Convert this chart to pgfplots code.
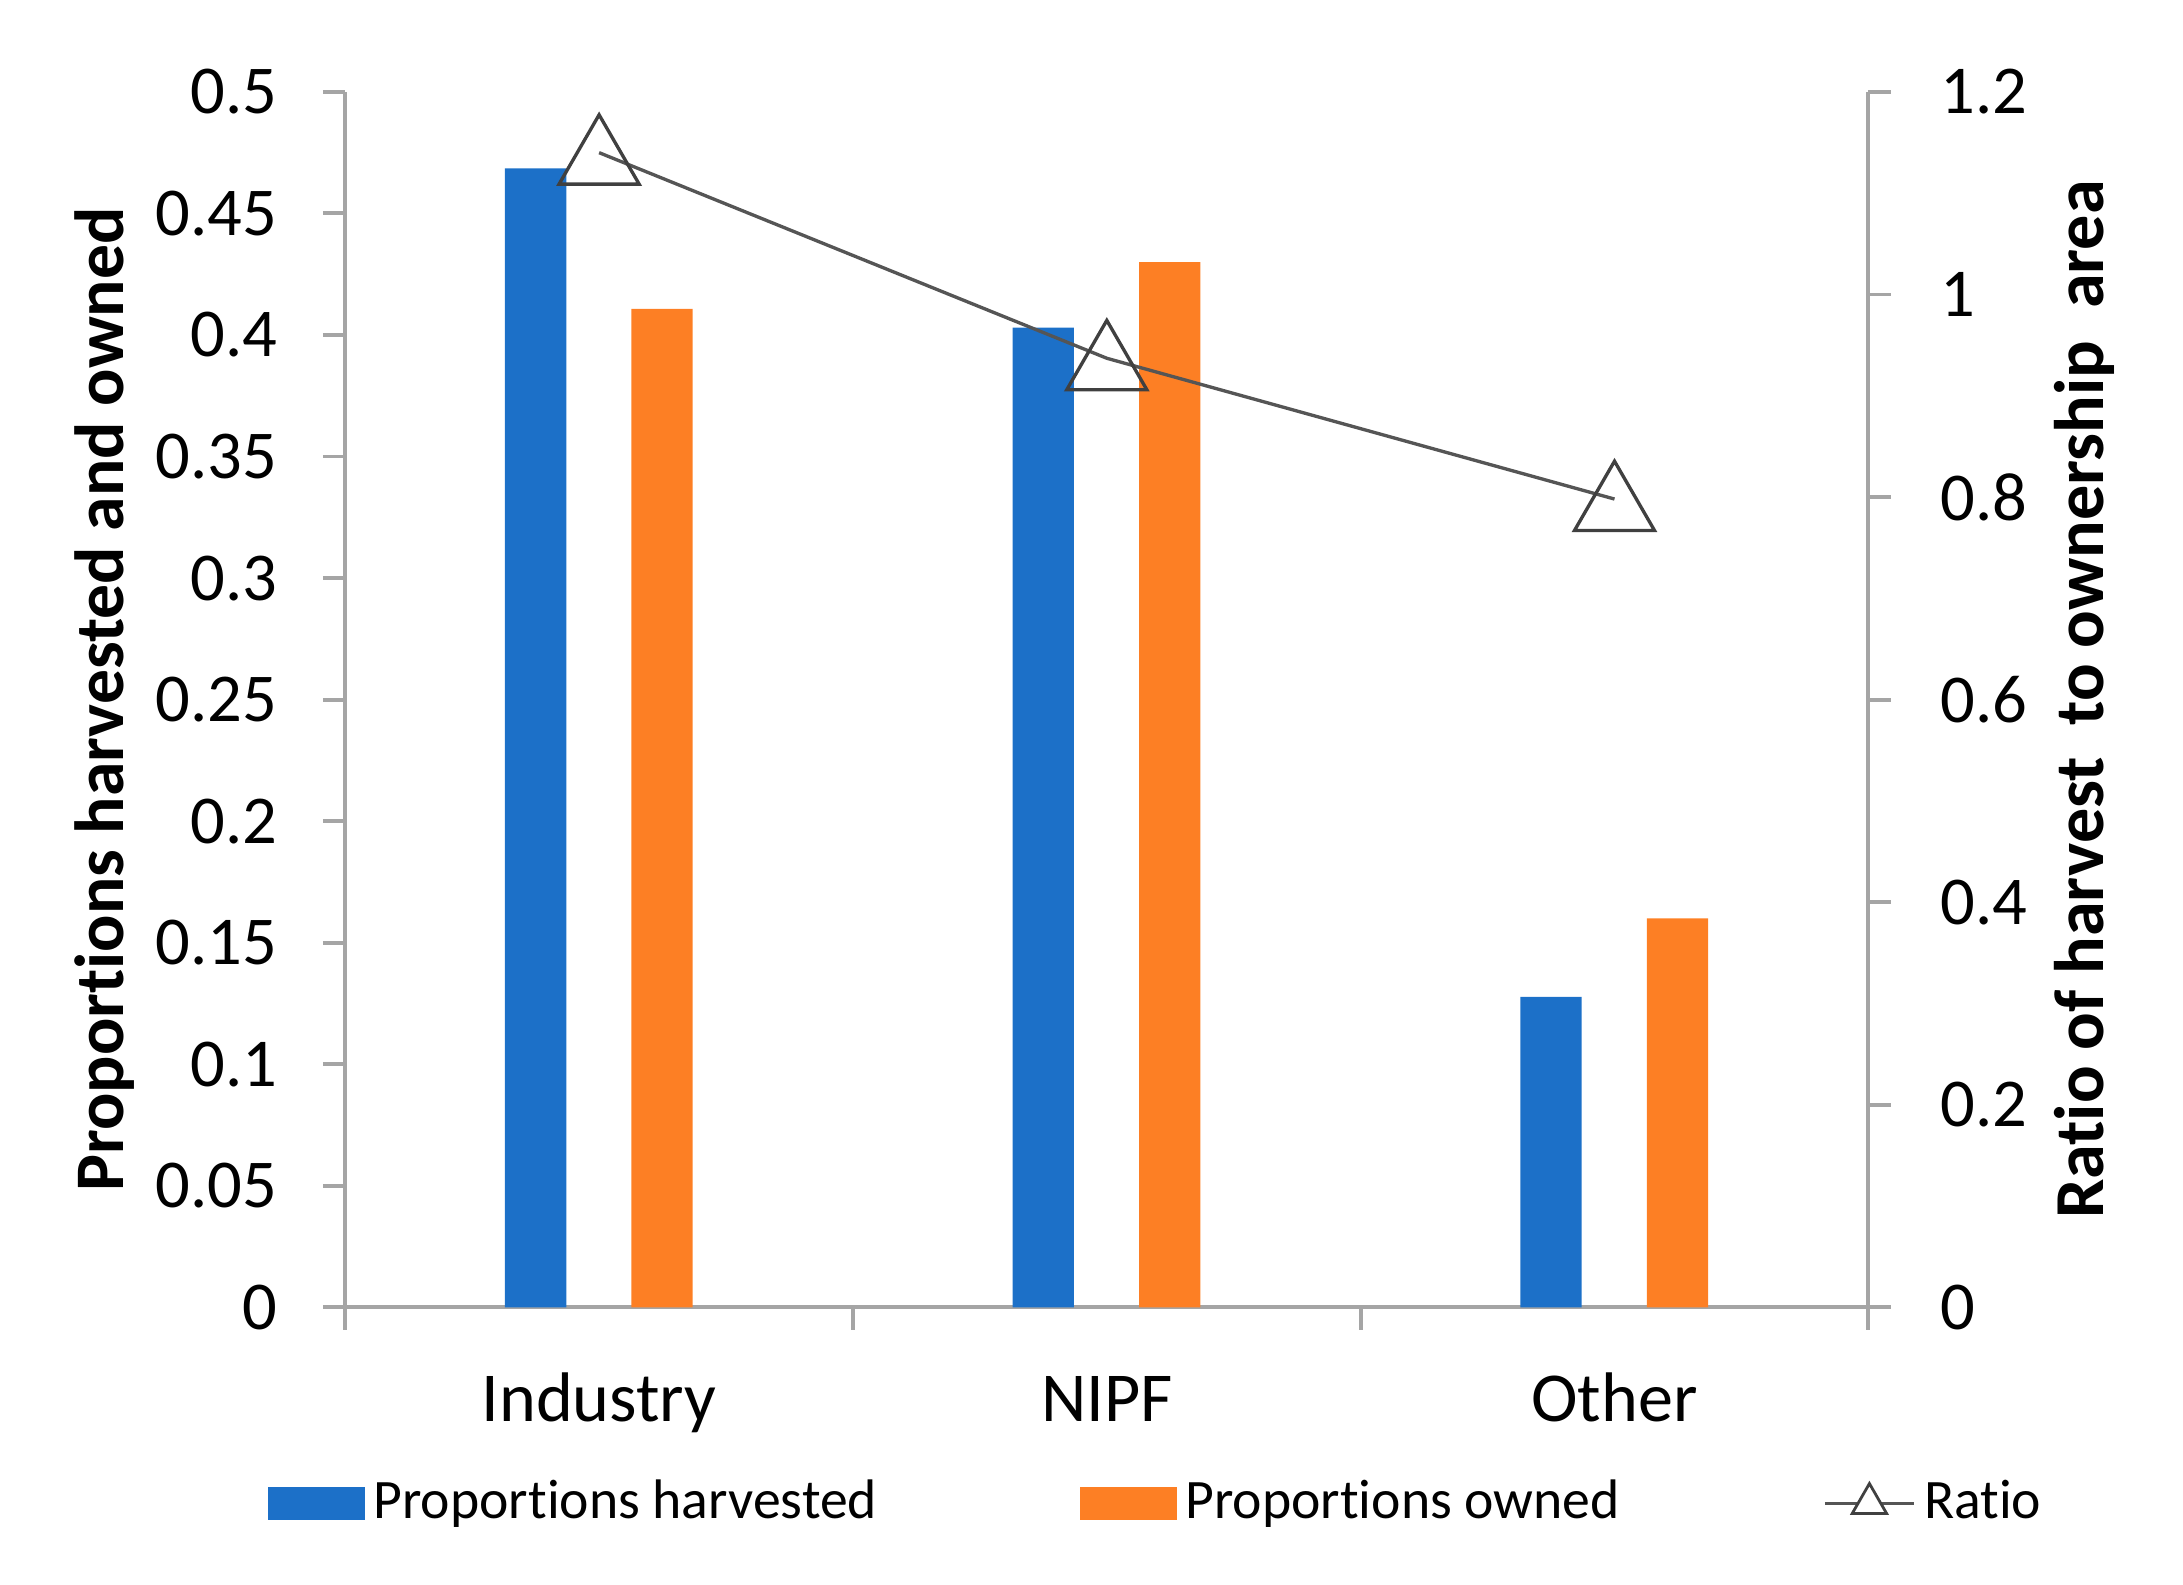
\documentclass[border=0pt]{standalone}
\usepackage{fontspec}
\setmainfont{Carlito}[Ligatures=NoCommon]
\usepackage{pgfplots}
\pgfplotsset{compat=1.18}
\definecolor{cblue}{RGB}{28,112,200}
\definecolor{corange}{RGB}{253,127,36}
\definecolor{axgray}{RGB}{165,165,165}
\definecolor{lgray}{RGB}{85,85,85}
\begin{document}
\begin{tikzpicture}
\pgfplotsset{
  common/.style={
    scale only axis, width=273.5pt, height=218.25pt,
    xmin=-0.5, xmax=2.5,
    axis line style={draw=axgray, line width=0.7pt, -},
    tick style={draw=axgray, line width=0.7pt},
    tick align=outside,
    major tick length=4pt, minor tick length=4pt,
    ticklabel style={font=\fontsize{12.3}{14}\selectfont},
  }
}
\begin{axis}[
  common, name=main,
  ymin=0, ymax=0.5,
  axis x line*=bottom, axis y line*=left,
  xtick={0,1,2}, xticklabels={Industry,NIPF,Other},
  major x tick style={draw=none},
  minor xtick={-0.5,0.5,1.5,2.5},
  xticklabel style={anchor=base, inner sep=0pt, yshift=-16.5pt, font=\fontsize{12.6}{14}\selectfont},
  ytick={0,0.05,0.1,0.15,0.2,0.25,0.3,0.35,0.4,0.45,0.5},
  yticklabels={0,0.05,0.1,0.15,0.2,0.25,0.3,0.35,0.4,0.45,0.5},
  yticklabel style={anchor=east, inner sep=0pt, xshift=-8pt},
  ylabel={Proportions harvested and owned},
  ylabel style={at={(axis description cs:-0.158,0.5)}, anchor=center, font=\bfseries\fontsize{12.5}{14}\selectfont},
]
\addplot[ybar, bar width=11pt, bar shift=-11.4pt, fill=cblue, draw=none] coordinates {(0,0.4685) (1,0.403) (2,0.1277)};
\addplot[ybar, bar width=11pt, bar shift=11.3pt, fill=corange, draw=none] coordinates {(0,0.4107) (1,0.430) (2,0.160)};
\end{axis}
\begin{axis}[
  common,
  ymin=0, ymax=1.2,
  axis x line=none, axis y line*=right,
  ytick={0,0.2,0.4,0.6,0.8,1,1.2},
  yticklabels={0,0.2,0.4,0.6,0.8,1,1.2},
  yticklabel style={anchor=west, inner sep=0pt, xshift=8.75pt},
  ylabel={Ratio of harvest\ \ to ownership\ \ area},
  ylabel style={at={(axis description cs:1.1417,0.5)}, anchor=center, rotate=0, font=\bfseries\fontsize{12.6}{14}\selectfont},
  legend columns=-1,
  legend style={at={(axis description cs:-0.0512,-0.1615)}, anchor=west, draw=none, fill=none, inner sep=0pt,
    font=\fontsize{10}{12}\selectfont, nodes={inner sep=1.5pt},
    /tikz/every even column/.append style={column sep=35pt}},
]
\addlegendimage{legend image code/.code={\fill[cblue] (0pt,-2.7pt) rectangle (17pt,2.7pt);}}
\addlegendentry{Proportions harvested}
\addlegendimage{legend image code/.code={\fill[corange] (0pt,-2.7pt) rectangle (17pt,2.7pt);}}
\addlegendentry{Proportions owned}
\addplot[lgray, line width=0.6pt, mark=triangle, mark size=8.3pt,
  mark options={fill=white, draw=black!75, line width=0.6pt, yshift=-1.5pt},
  legend image code/.code={\draw[lgray, line width=0.6pt] (0pt,0pt) -- (16pt,0pt);
    \draw[black!75, fill=white, line width=0.5pt] (8pt,3.6pt) -- (4.9pt,-1.8pt) -- (11.1pt,-1.8pt) -- cycle;}]
  coordinates {(0,1.14) (1,0.937) (2,0.798)};
\addlegendentry{Ratio}
\end{axis}
\pgfresetboundingbox
\path (main.south west) ++(-62pt,-49.75pt) rectangle ++(392pt,284.5pt);
\end{tikzpicture}
\end{document}
